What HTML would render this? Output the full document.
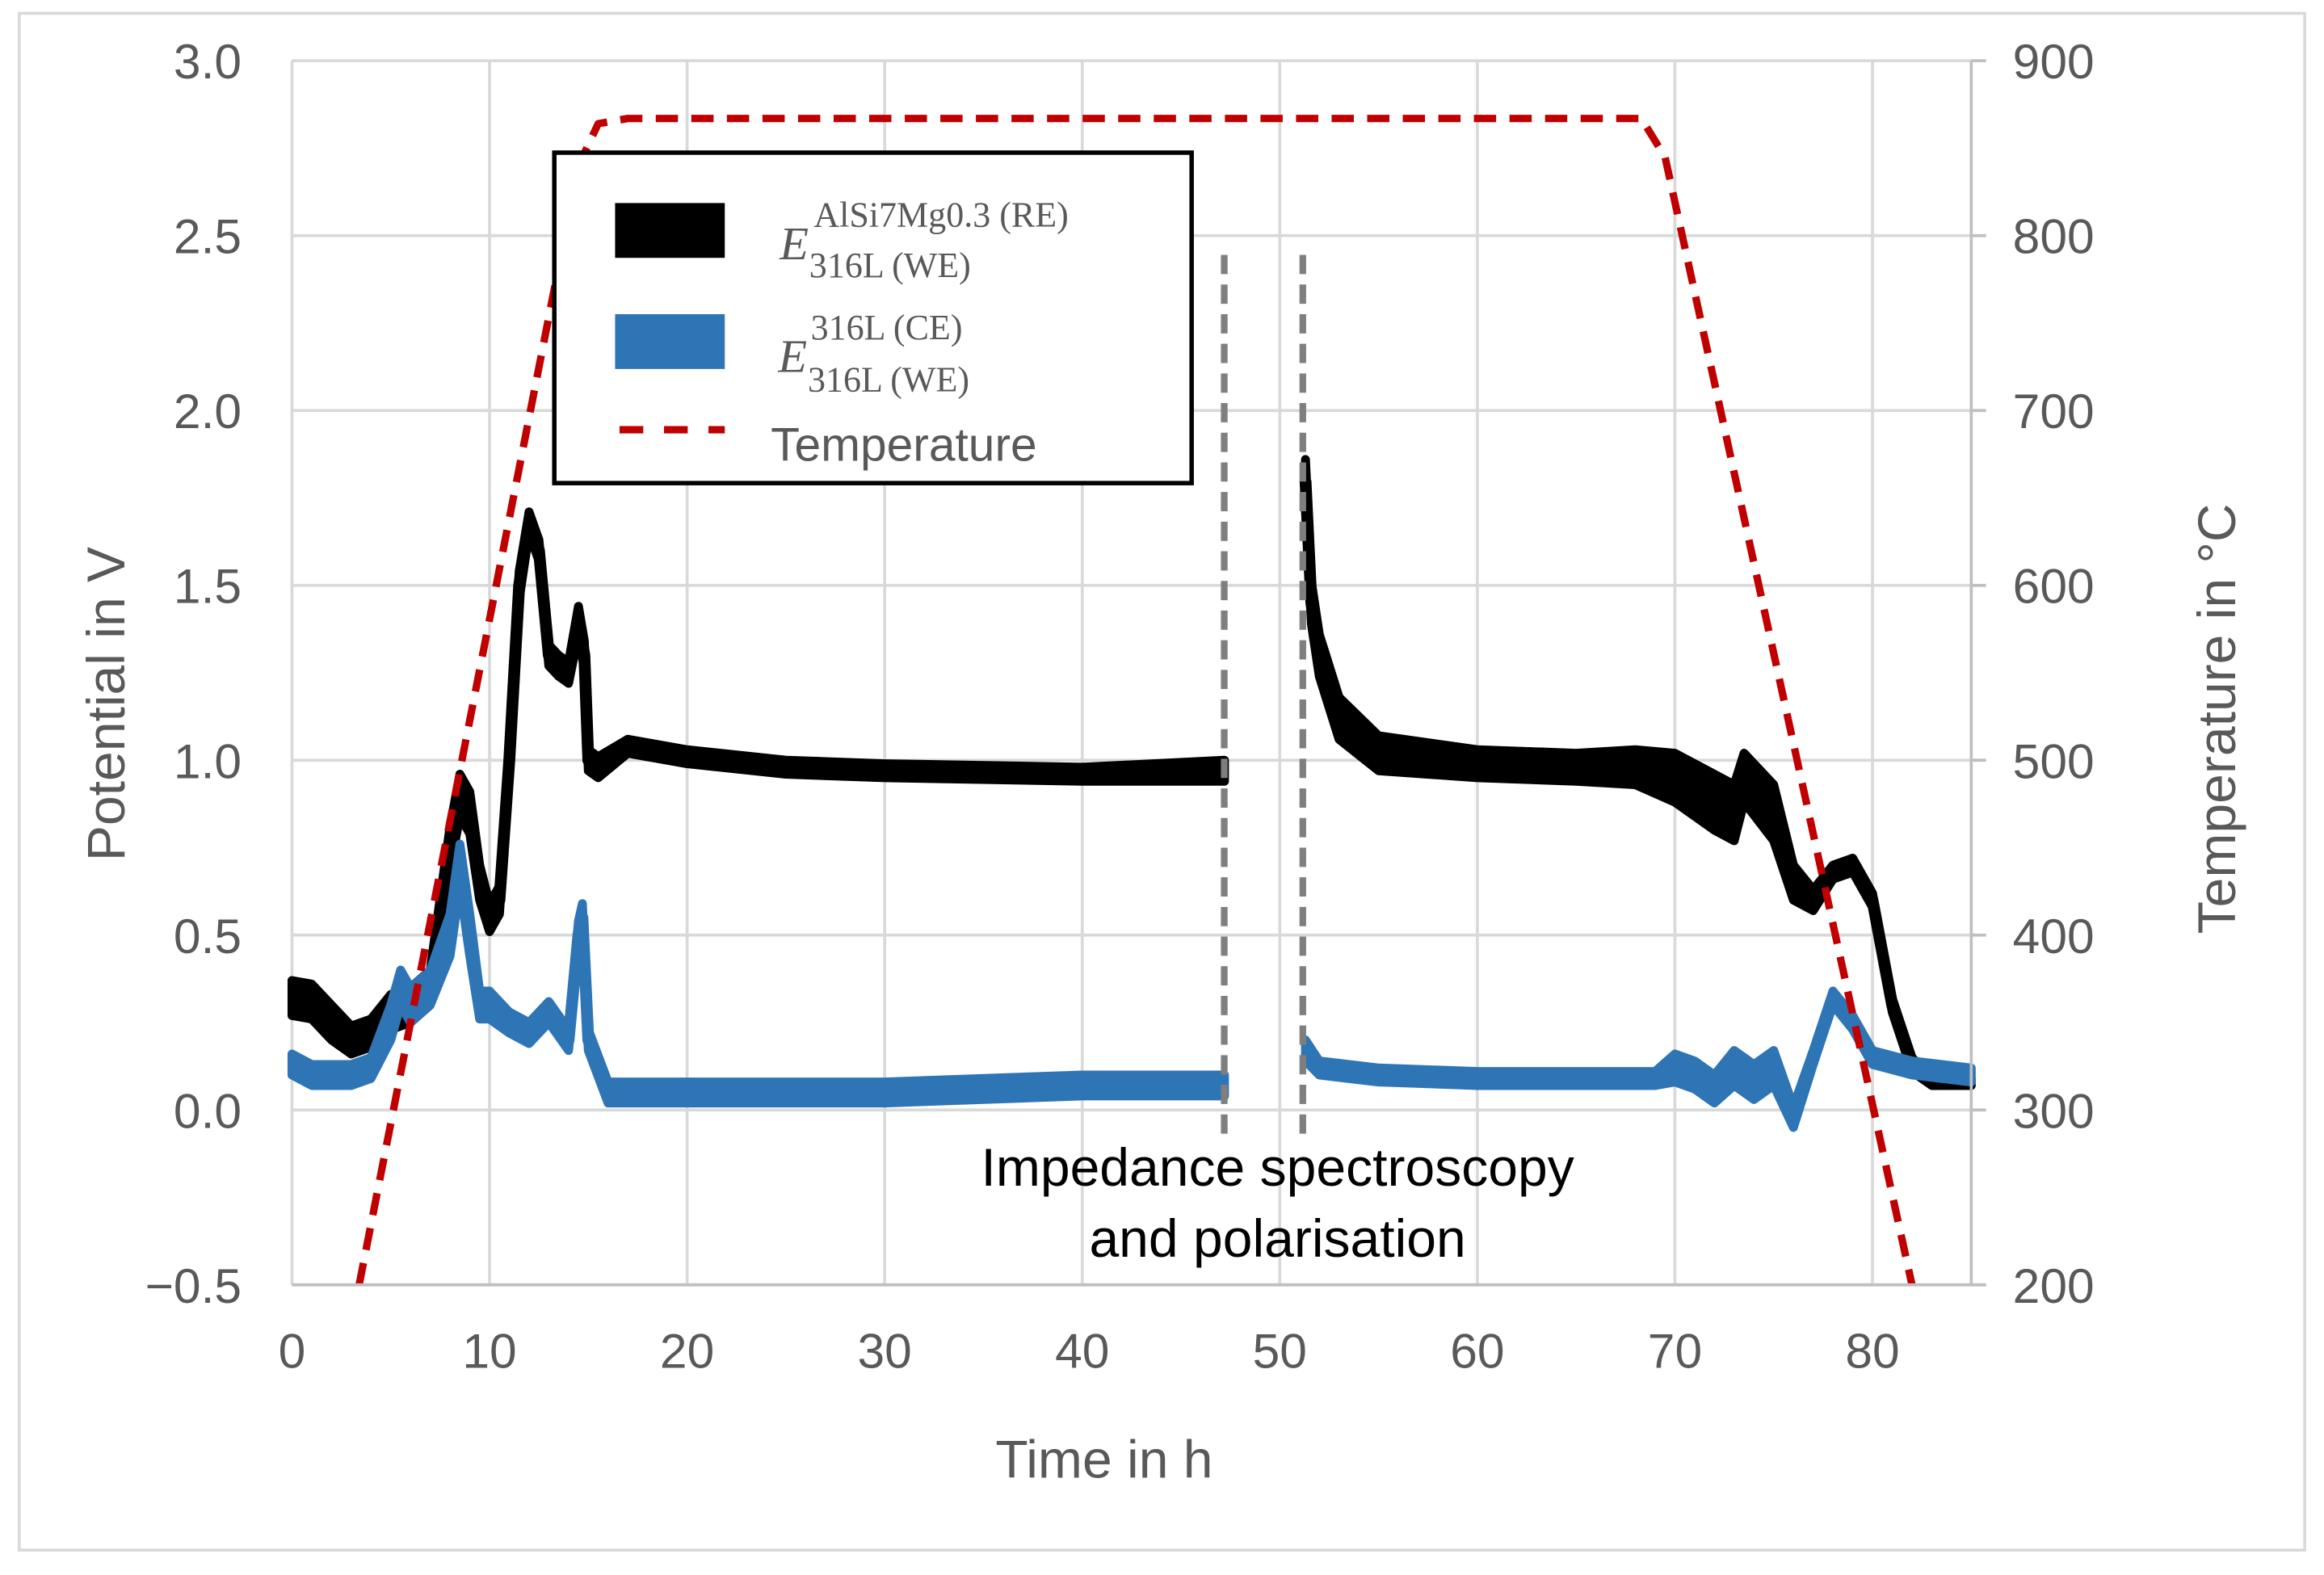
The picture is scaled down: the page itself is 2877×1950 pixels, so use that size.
<!DOCTYPE html>
<html><head><meta charset="utf-8"><style>
html,body{margin:0;padding:0;background:#fff;}
svg{display:block;}
text{font-family:"Liberation Sans",sans-serif;}
text.serif{font-family:"Liberation Serif",serif;}
</style></head><body>
<svg id="chart" width="2877" height="1950" viewBox="0 0 1568 1062.8" preserveAspectRatio="none" xmlns="http://www.w3.org/2000/svg">
<rect x="13" y="9" width="1542" height="1037" fill="#fff" stroke="#d9d9d9" stroke-width="2"/>
<g id="grid"></g>
<g id="series"></g>
<g id="axes"></g>
<g>
<line x1="826" y1="172" x2="826" y2="770" stroke="#7f7f7f" stroke-width="4.5" stroke-dasharray="13,7"/>
<line x1="879" y1="172" x2="879" y2="770" stroke="#7f7f7f" stroke-width="4.5" stroke-dasharray="13,7"/>
<text x="862" y="800" font-size="36" text-anchor="middle" fill="#000">Impedance spectroscopy</text>
<text x="862" y="848" font-size="36" text-anchor="middle" fill="#000">and polarisation</text>
</g>
<g>
<rect x="374" y="103" width="430" height="223" fill="#fff" stroke="#000" stroke-width="3"/>
<rect x="415" y="137" width="74" height="37" fill="#000"/>
<rect x="415" y="212" width="74" height="37" fill="#2e75b6"/>
<line x1="418" y1="290" x2="489" y2="290" stroke="#c00000" stroke-width="5" stroke-dasharray="16,14"/>
<g fill="#595959">
<text class="serif" x="526" y="175" font-size="32" font-style="italic">E</text>
<text class="serif" x="549" y="153" font-size="24">AlSi7Mg0.3 (RE)</text>
<text class="serif" x="546" y="187" font-size="24">316L (WE)</text>
</g>
<g fill="#595959">
<text class="serif" x="525" y="251" font-size="32" font-style="italic">E</text>
<text class="serif" x="547" y="229" font-size="24">316L (CE)</text>
<text class="serif" x="545" y="264" font-size="24">316L (WE)</text>
</g>
<text x="520" y="311" font-size="32" fill="#595959">Temperature</text>
</g>
</svg>
<script>
// Data
const blackTimes = [0,1,2,3,4,5,6,7,8,8.5,9,9.5,10,10.5,11,11.5,12,12.5,13,13.5,14,14.5,14.8,15,15.5,17,20,25,30,40,47.2,51.3,51.6,52,53,55,60,65,68,70,72,73,73.5,75,76,77,78,79,80,81,82,83,85];
const blackValues = [0.32,0.31,0.25,0.2,0.22,0.28,0.3,0.35,0.75,0.9,0.85,0.65,0.55,0.6,1.0,1.5,1.68,1.6,1.3,1.27,1.25,1.4,1.3,1.0,0.98,1.04,1.01,0.98,0.97,0.96,0.97,1.8,1.45,1.3,1.12,1.02,0.99,0.98,0.98,0.95,0.88,0.85,0.95,0.85,0.65,0.6,0.68,0.7,0.6,0.3,0.13,0.08,0.08];
const blackSpread = [0.05,0.05,0.05,0.04,0.04,0.05,0.05,0.05,0.06,0.06,0.06,0.05,0.04,0.04,0.04,0.04,0.03,0.03,0.03,0.03,0.03,0.04,0.04,0.03,0.03,0.02,0.02,0.02,0.02,0.02,0.03,0.06,0.06,0.06,0.06,0.05,0.04,0.04,0.05,0.07,0.08,0.08,0.07,0.08,0.05,0.03,0.02,0.02,0.02,0.02,0.02,0.01,0.01];
const blueTimes = [0,1,3,4,5,5.5,6,7,8,8.5,9,9.5,10,11,12,13,14,14.5,14.7,15,16,20,30,40,47.2,51.3,52,55,60,69,70,71,72,73,74,75,76,77,78,79,80,82,85];
const blueValues = [0.13,0.1,0.1,0.12,0.25,0.35,0.3,0.35,0.5,0.7,0.5,0.3,0.3,0.25,0.22,0.28,0.2,0.5,0.55,0.2,0.05,0.05,0.05,0.07,0.07,0.17,0.12,0.1,0.09,0.09,0.12,0.1,0.06,0.12,0.08,0.12,-0.02,0.15,0.32,0.25,0.15,0.12,0.1];
const blueSpread = [0.03,0.03,0.03,0.03,0.05,0.05,0.05,0.05,0.06,0.06,0.06,0.04,0.04,0.03,0.03,0.03,0.03,0.04,0.04,0.03,0.03,0.03,0.03,0.03,0.03,0.03,0.02,0.02,0.02,0.02,0.04,0.04,0.04,0.05,0.05,0.05,0.03,0.02,0.02,0.02,0.02,0.02,0.02];
const tempTimes = [3.4,14.5,15.5,17,68.3,69.5,82];
const tempValues = [200,840,864,867,867,845,200];
const gapStart = 47.3, gapEnd = 51.2;
const xTicks = [0,10,20,30,40,50,60,70,80];
const yTicks = [-0.5,0,0.5,1.0,1.5,2.0,2.5,3.0];
const yTickLabels = ["\u22120.5","0.0","0.5","1.0","1.5","2.0","2.5","3.0"];
const y2Ticks = [200,300,400,500,600,700,800,900];

const NS = "http://www.w3.org/2000/svg";
const L=197, R=1330, T=41, B=867;
function xs(t){return L + t*(R-L)/85;}
function ys(v){return T + (3-v)*(B-T)/3.5;}
function ys2(c){return T + (900-c)*(B-T)/700;}
function mk(tag, attrs, parent){const e=document.createElementNS(NS,tag);for(const k in attrs)e.setAttribute(k,attrs[k]);parent.appendChild(e);return e;}

const grid=document.getElementById('grid'), axes=document.getElementById('axes'), series=document.getElementById('series');
yTicks.forEach((v,i)=>{
  const ln=mk('line',{x1:L,x2:R,y1:ys(v),y2:ys(v),stroke:'#d9d9d9','stroke-width':2},grid);
  
  
  const t=mk('text',{x:163,y:ys(v)+12,'font-size':33,'text-anchor':'end',fill:'#595959'},axes);
  t.textContent=yTickLabels[i];
  
  
});
xTicks.forEach(tk=>{
  const ln=mk('line',{x1:xs(tk),x2:xs(tk),y1:T,y2:B,stroke:'#d9d9d9','stroke-width':2},grid);
  
  
  const t=mk('text',{x:xs(tk),y:923,'font-size':33,'text-anchor':'middle',fill:'#595959'},axes);
  t.textContent=String(tk);
  
  
});
y2Ticks.forEach(c=>{
  const tk=mk('line',{x1:R,x2:R+10,y1:ys2(c),y2:ys2(c),stroke:'#bfbfbf','stroke-width':2},axes);
  
  
  const t=mk('text',{x:1358,y:ys2(c)+12,'font-size':33,'text-anchor':'start',fill:'#595959'},axes);
  t.textContent=String(c);
  
  
});
const xa=mk('line',{x1:L,x2:R+10,y1:B,y2:B,stroke:'#bfbfbf','stroke-width':2},axes);


const ya2=mk('line',{x1:R,x2:R,y1:T,y2:B,stroke:'#bfbfbf','stroke-width':2},axes);


const xt=mk('text',{x:745,y:997,'font-size':36,'text-anchor':'middle',fill:'#595959'},axes);
xt.textContent='Time in h';


const yt=mk('text',{x:0,y:0,'font-size':36,'text-anchor':'middle',fill:'#595959',transform:'translate(84,475) rotate(-90)'},axes);
yt.textContent='Potential in V';


const y2t=mk('text',{x:0,y:0,'font-size':36,'text-anchor':'middle',fill:'#595959',transform:'translate(1508,485) rotate(-90)'},axes);
y2t.textContent='Temperature in \u00B0C';



function segments(times){const segs=[];let cur=[0];for(let i=1;i<times.length;i++){if(times[i-1]<=gapStart && times[i]>=gapEnd){segs.push(cur);cur=[];}cur.push(i);}segs.push(cur);return segs;}
function drawSeries(times, vals, spread, color, name){
  segments(times).forEach(seg=>{
    const up=seg.map(i=>xs(times[i])+','+ys(vals[i]+spread[i]));
    const dn=seg.slice().reverse().map(i=>xs(times[i])+','+ys(vals[i]-spread[i]));
    const band=mk('polygon',{points:up.concat(dn).join(' '),fill:color,stroke:color,'stroke-width':6,'stroke-linejoin':'round'},series);
    
    
    const pl=mk('polyline',{points:seg.map(i=>xs(times[i])+','+ys(vals[i])).join(' '),fill:'none',stroke:color,'stroke-width':8,'stroke-linejoin':'round'},series);
    
    
  });
}
drawSeries(blackTimes, blackValues, blackSpread, '#000', 'potential-re-we');
drawSeries(blueTimes, blueValues, blueSpread, '#2e75b6', 'potential-ce-we');
const tl=mk('polyline',{points:tempTimes.map((t,i)=>xs(t)+','+ys2(tempValues[i])).join(' '),fill:'none',stroke:'#c00000','stroke-width':5,'stroke-dasharray':'15,9','stroke-linejoin':'round'},series);


</script>
</body></html>
